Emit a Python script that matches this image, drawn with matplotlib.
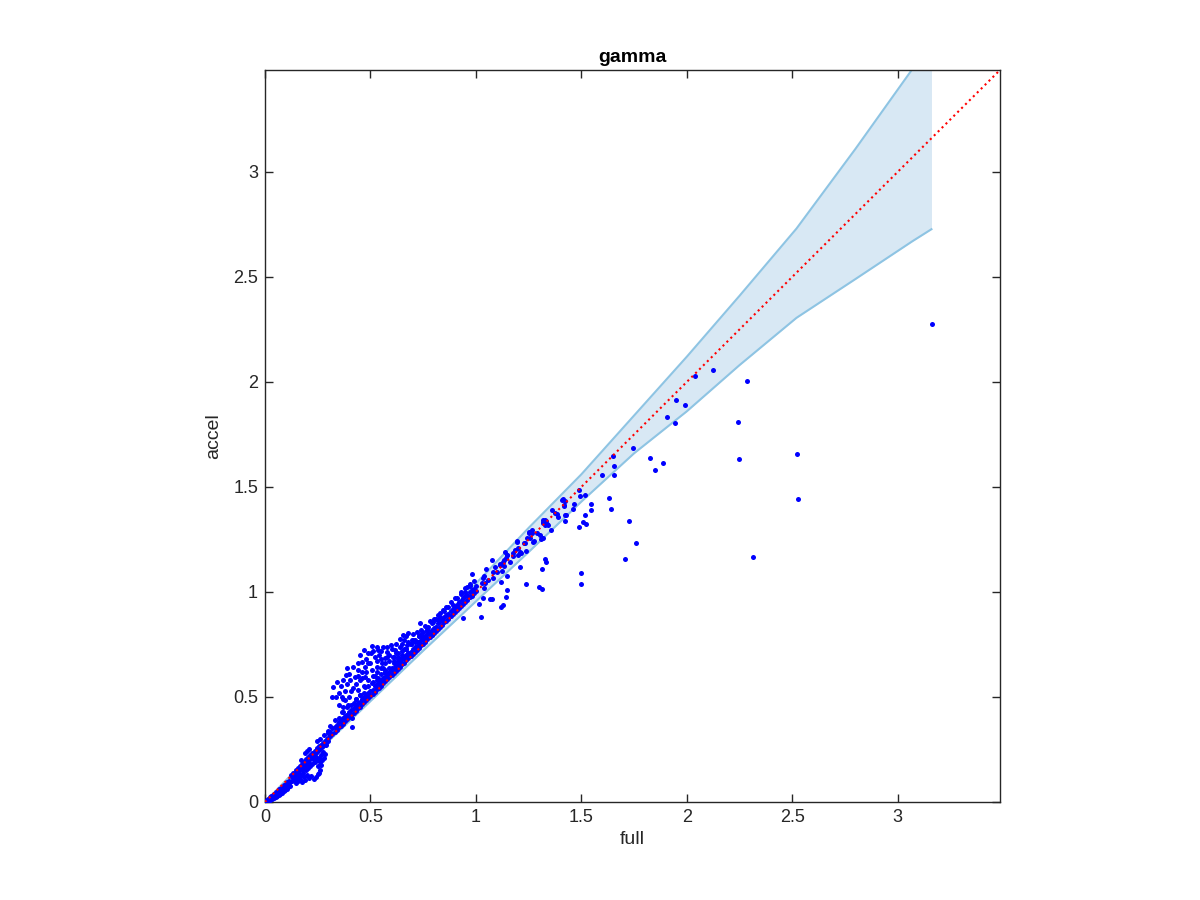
import matplotlib
matplotlib.use("Agg")
import matplotlib.pyplot as plt

# -----------------------------
# data
# -----------------------------

# confidence band (upper / lower edge)
band_x = [0, 0.25, 0.5, 0.75, 1.0, 1.25, 1.5, 1.75, 2.0, 2.25, 2.52, 2.8, 3.07, 3.16]
band_up = [0, 0.26, 0.515, 0.775, 1.04, 1.305, 1.56, 1.84, 2.12, 2.41, 2.73, 3.11, 3.49, 3.61]
band_lo = [0, 0.24, 0.48, 0.72, 0.955, 1.19, 1.43, 1.66, 1.86, 2.08, 2.305, 2.49, 2.67, 2.727]

diag = [0, 3.485]

# points near the origin and the lower bulge (full < 0.3)
low_x = [0.002, 0.006, 0.01, 0.012, 0.015, 0.018, 0.02, 0.022, 0.025, 0.028, 0.03, 0.033,
         0.035, 0.038, 0.04, 0.043, 0.045, 0.048, 0.05, 0.053, 0.055, 0.058, 0.06, 0.063,
         0.065, 0.068, 0.07, 0.073, 0.075, 0.078, 0.08, 0.083, 0.085, 0.088, 0.09, 0.093,
         0.095, 0.098, 0.1, 0.103, 0.106, 0.108, 0.11, 0.113, 0.116, 0.12,
         0.125, 0.13, 0.135, 0.14, 0.145, 0.15, 0.155, 0.16, 0.165, 0.17, 0.175, 0.18,
         0.185, 0.19, 0.195, 0.2, 0.205, 0.21, 0.215, 0.22, 0.225, 0.23, 0.235, 0.24,
         0.245, 0.25, 0.255, 0.26, 0.265, 0.27, 0.275, 0.28, 0.285, 0.29, 0.295, 0.3,
         0.13, 0.14, 0.145, 0.15, 0.155, 0.16, 0.165, 0.17, 0.175, 0.18, 0.185, 0.19,
         0.195, 0.2, 0.205, 0.21, 0.215, 0.22, 0.225, 0.23, 0.235, 0.24, 0.245, 0.25,
         0.255, 0.26, 0.265, 0.27, 0.28, 0.285, 0.17, 0.19, 0.2, 0.21, 0.24, 0.25,
         0.255, 0.26, 0.23,
         0.17, 0.19, 0.2, 0.21, 0.245, 0.26, 0.28, 0.3,
         0.14, 0.16, 0.18, 0.2, 0.265, 0.275, 0.29]
low_y = [0.001, 0.004, 0.008, 0.004, 0.012, 0.01, 0.016, 0.008, 0.022, 0.015, 0.027, 0.02,
         0.012, 0.033, 0.026, 0.018, 0.04, 0.03, 0.022, 0.047, 0.036, 0.028, 0.052, 0.042,
         0.033, 0.06, 0.05, 0.04, 0.065, 0.055, 0.045, 0.072, 0.062, 0.05, 0.08, 0.068,
         0.058, 0.088, 0.076, 0.064, 0.095, 0.083, 0.07, 0.102, 0.09, 0.078,
         0.13, 0.12, 0.14, 0.128, 0.15, 0.138, 0.16, 0.148, 0.17, 0.158, 0.18, 0.168,
         0.19, 0.178, 0.205, 0.19, 0.215, 0.2, 0.225, 0.21, 0.235, 0.22, 0.245, 0.232,
         0.255, 0.242, 0.265, 0.25, 0.27, 0.26, 0.28, 0.272, 0.29, 0.282, 0.3, 0.292,
         0.1, 0.105, 0.09, 0.115, 0.1, 0.125, 0.11, 0.13, 0.095, 0.14, 0.12, 0.105,
         0.15, 0.13, 0.16, 0.115, 0.17, 0.125, 0.18, 0.11, 0.19, 0.12, 0.2, 0.135,
         0.21, 0.15, 0.175, 0.2, 0.21, 0.23, 0.155, 0.165, 0.175, 0.185, 0.215, 0.17,
         0.14, 0.19, 0.2,
         0.2, 0.235, 0.245, 0.25, 0.29, 0.3, 0.32, 0.34,
         0.115, 0.135, 0.155, 0.16, 0.225, 0.24, 0.27]

# main ridge just above the diagonal (0.3 .. 1.0)
ridge_x = [0.30, 0.31, 0.32, 0.33, 0.34, 0.35, 0.36, 0.37, 0.38, 0.39, 0.40, 0.41, 0.42,
           0.43, 0.44, 0.45, 0.46, 0.47, 0.48, 0.49, 0.50, 0.51, 0.52, 0.53, 0.54, 0.55,
           0.56, 0.57, 0.58, 0.59, 0.60, 0.61, 0.62, 0.63, 0.64, 0.65, 0.66, 0.67, 0.68,
           0.69, 0.70, 0.71, 0.72, 0.73, 0.74, 0.75, 0.76, 0.77, 0.78, 0.79, 0.80, 0.81,
           0.82, 0.83, 0.84, 0.85, 0.86, 0.87, 0.88, 0.89, 0.90, 0.91, 0.92, 0.93, 0.94,
           0.95, 0.96, 0.97, 0.98, 0.99, 1.00]
ridge_a = [0.305, 0.312, 0.322, 0.334, 0.343, 0.356, 0.364, 0.373, 0.386, 0.394, 0.403,
           0.416, 0.424, 0.433, 0.446, 0.453, 0.465, 0.476, 0.484, 0.493, 0.506, 0.514,
           0.523, 0.536, 0.545, 0.553, 0.566, 0.575, 0.584, 0.596, 0.603, 0.615, 0.626,
           0.634, 0.643, 0.656, 0.664, 0.675, 0.686, 0.693, 0.705, 0.716, 0.724, 0.733,
           0.746, 0.754, 0.763, 0.776, 0.784, 0.793, 0.806, 0.813, 0.825, 0.834, 0.843,
           0.856, 0.864, 0.873, 0.885, 0.894, 0.903, 0.915, 0.924, 0.933, 0.945, 0.953,
           0.964, 0.975, 0.983, 0.994, 1.004]
ridge_b = [0.33, 0.335, 0.35, 0.357, 0.366, 0.38, 0.385, 0.4, 0.41, 0.415, 0.43, 0.44,
           0.446, 0.46, 0.47, 0.475, 0.49, 0.5, 0.505, 0.52, 0.53, 0.535, 0.55, 0.56,
           0.565, 0.58, 0.59, 0.596, 0.61, 0.62, 0.625, 0.64, 0.65, 0.656, 0.67, 0.68,
           0.685, 0.7, 0.71, 0.716, 0.73, 0.74, 0.745, 0.76, 0.77, 0.775, 0.79, 0.8,
           0.806, 0.82, 0.83, 0.835, 0.85, 0.86, 0.866, 0.88, 0.89, 0.895, 0.91, 0.92,
           0.925, 0.94, 0.95, 0.955, 0.97, 0.98, 0.985, 1.0, 1.01, 1.015, 1.03]
ridge2_x = [0.31, 0.33, 0.35, 0.37, 0.39, 0.41, 0.43, 0.45, 0.47, 0.49, 0.51, 0.53, 0.55,
            0.57, 0.59, 0.61, 0.63, 0.65, 0.67, 0.69, 0.71, 0.73, 0.75, 0.77, 0.79, 0.81,
            0.83, 0.85, 0.87, 0.89, 0.91, 0.93, 0.95, 0.97, 0.99]
ridge2_y = [0.36, 0.39, 0.40, 0.43, 0.45, 0.46, 0.49, 0.51, 0.52, 0.55, 0.57, 0.58, 0.61,
            0.63, 0.64, 0.67, 0.69, 0.70, 0.73, 0.75, 0.76, 0.79, 0.81, 0.82, 0.85, 0.87,
            0.88, 0.91, 0.93, 0.94, 0.97, 0.99, 1.00, 1.03, 1.05]

# the hump above the ridge (0.3 .. 0.85)
hump_x = [0.468, 0.509, 0.502, 0.537, 0.561, 0.577, 0.597, 0.616, 0.608, 0.640, 0.656,
          0.679, 0.695, 0.671, 0.735, 0.742, 0.774, 0.798, 0.750, 0.458, 0.474, 0.490,
          0.442, 0.419, 0.387, 0.382, 0.403, 0.427, 0.450, 0.474, 0.506, 0.529, 0.553,
          0.569, 0.340, 0.324, 0.319, 0.336, 0.363, 0.379, 0.371, 0.395, 0.363, 0.387,
          0.411, 0.414, 0.419, 0.442, 0.474, 0.506, 0.537, 0.569, 0.600, 0.624, 0.648,
          0.679, 0.711, 0.727, 0.758, 0.790, 0.821,
          0.35, 0.36, 0.37, 0.39, 0.40, 0.41, 0.43, 0.44, 0.45, 0.46, 0.48, 0.49, 0.50,
          0.51, 0.52, 0.53, 0.54, 0.55, 0.56, 0.58, 0.59, 0.60, 0.62, 0.63, 0.64, 0.66,
          0.67, 0.68, 0.70, 0.72, 0.73, 0.76, 0.78, 0.80, 0.82, 0.43, 0.45, 0.47, 0.49,
          0.51, 0.53, 0.55, 0.57, 0.59, 0.61, 0.63, 0.65, 0.67, 0.69, 0.38, 0.42, 0.40,
          0.83, 0.86, 0.88, 0.90, 0.93, 0.95, 0.97,
          0.46, 0.52, 0.55, 0.58, 0.62, 0.65, 0.70, 0.74, 0.77, 0.48, 0.53, 0.57, 0.61,
          0.66, 0.71, 0.35, 0.37, 0.44]
hump_y = [0.724, 0.744, 0.708, 0.724, 0.740, 0.716, 0.748, 0.724, 0.692, 0.775, 0.795,
          0.803, 0.771, 0.748, 0.851, 0.819, 0.835, 0.859, 0.787, 0.668, 0.644, 0.660,
          0.629, 0.644, 0.636, 0.605, 0.581, 0.597, 0.581, 0.597, 0.629, 0.644, 0.660,
          0.684, 0.573, 0.546, 0.501, 0.501, 0.501, 0.486, 0.454, 0.462, 0.430, 0.414,
          0.398, 0.358, 0.541, 0.533, 0.549, 0.565, 0.589, 0.613, 0.637, 0.660, 0.684,
          0.708, 0.732, 0.763, 0.771, 0.795, 0.867,
          0.52, 0.55, 0.58, 0.56, 0.61, 0.53, 0.56, 0.66, 0.70, 0.62, 0.68, 0.71, 0.66,
          0.72, 0.69, 0.74, 0.70, 0.72, 0.64, 0.74, 0.70, 0.73, 0.75, 0.71, 0.74, 0.77,
          0.79, 0.76, 0.80, 0.81, 0.79, 0.84, 0.86, 0.87, 0.89, 0.49, 0.51, 0.55, 0.58,
          0.60, 0.62, 0.64, 0.66, 0.67, 0.69, 0.68, 0.72, 0.73, 0.75, 0.53, 0.47, 0.50,
          0.90, 0.93, 0.95, 0.97, 1.00, 1.02, 1.04,
          0.59, 0.60, 0.68, 0.69, 0.71, 0.75, 0.77, 0.80, 0.82, 0.62, 0.67, 0.62, 0.66,
          0.73, 0.77, 0.46, 0.49, 0.60]

# points along and below the band (0.85 .. 3.2)
outer_x = [1.488, 1.493, 1.515, 1.547, 1.545, 1.507, 1.520, 1.491, 1.499, 1.498, 1.327,
           1.332, 1.314, 1.299, 1.314, 1.239, 1.209, 1.414, 1.422, 1.419, 1.464, 1.461,
           1.423, 1.422, 1.385, 1.389, 1.327, 1.319, 1.339, 1.355, 1.267, 1.253, 1.256,
           1.303, 1.310, 1.275, 1.194, 1.229, 1.237, 1.213, 1.198, 1.177, 1.137, 1.149,
           1.134, 1.112, 1.133, 1.090, 1.076, 1.122, 1.147, 1.047, 1.039, 1.082, 0.981,
           0.956, 1.027, 1.039, 1.149, 1.145, 1.074, 1.032, 1.130, 1.024, 0.940,
           0.845, 1.121, 1.121, 1.066, 1.016, 1.035, 1.043, 1.059, 1.082, 1.098, 1.114,
           1.130, 1.145, 1.148, 1.161, 1.177, 1.185, 1.201, 1.208, 1.193, 1.232, 1.240,
           1.253, 1.264, 1.272, 1.290, 1.319, 1.327, 1.319, 1.374, 1.36, 1.409, 1.417,
           1.427, 1.32, 1.313, 1.515, 1.34, 1.33,
           3.164, 2.122, 2.041, 2.286, 1.948, 1.990, 1.907, 1.943, 2.243, 2.248, 2.521,
           2.528, 2.316, 1.747, 1.825, 1.888, 1.850, 1.651, 1.657, 1.656, 1.596, 1.629,
           1.640, 1.727, 1.758, 1.706]
outer_y = [1.486, 1.459, 1.462, 1.417, 1.392, 1.335, 1.324, 1.308, 1.090, 1.036, 1.159,
           1.143, 1.111, 1.025, 1.014, 1.040, 1.118, 1.444, 1.433, 1.413, 1.419, 1.394,
           1.367, 1.340, 1.369, 1.355, 1.343, 1.332, 1.324, 1.295, 1.295, 1.283, 1.258,
           1.271, 1.250, 1.244, 1.241, 1.235, 1.197, 1.184, 1.176, 1.173, 1.192, 1.175,
           1.152, 1.133, 1.125, 1.121, 1.152, 1.100, 1.078, 1.110, 1.076, 1.093, 1.086,
           1.025, 1.044, 1.017, 1.007, 0.978, 0.965, 0.971, 0.938, 0.882, 0.875,
           0.914, 0.930, 1.049, 0.965, 0.943, 1.065, 1.045, 1.057, 1.065, 1.097, 1.128,
           1.144, 1.160, 1.176, 1.144, 1.184, 1.200, 1.208, 1.192, 1.240, 1.232, 1.256,
           1.287, 1.279, 1.240, 1.279, 1.256, 1.319, 1.343, 1.375, 1.39, 1.440, 1.410,
           1.365, 1.33, 1.259, 1.368, 1.32, 1.34,
           2.275, 2.059, 2.029, 2.005, 1.913, 1.890, 1.835, 1.806, 1.808, 1.635, 1.659,
           1.443, 1.168, 1.686, 1.638, 1.613, 1.579, 1.646, 1.600, 1.556, 1.556, 1.448,
           1.395, 1.340, 1.235, 1.157]

full_pts = low_x + ridge_x + ridge_x + ridge2_x + hump_x + outer_x
accel_pts = low_y + ridge_a + ridge_b + ridge2_y + hump_y + outer_y

# -----------------------------
# plot
# -----------------------------
plt.rcParams["font.family"] = ["Liberation Sans", "DejaVu Sans"]

fig = plt.figure(figsize=(12, 9), dpi=100)
ax = fig.add_axes([265 / 1200, 98 / 900, 735 / 1200, 732 / 900])

ax.fill_between(band_x, band_lo, band_up, color="#d8e8f4", lw=0, zorder=1)
ax.plot(band_x, band_up, color="#8ec4e3", lw=1.5, zorder=2)
ax.plot(band_x, band_lo, color="#8ec4e3", lw=1.5, zorder=2)

ax.plot(full_pts, accel_pts, "o", color="#0000ff", ms=3.6, mew=0, zorder=3)

ax.plot(diag, diag, ":", color="#ff0000", lw=1.5, zorder=4)

ax.set_xlim(0, 3.485)
ax.set_ylim(0, 3.485)
ticks = [0, 0.5, 1, 1.5, 2, 2.5, 3]
ax.set_xticks(ticks)
ax.set_yticks(ticks)
ax.set_xticklabels(["0", "0.5", "1", "1.5", "2", "2.5", "3"])
ax.set_yticklabels(["0", "0.5", "1", "1.5", "2", "2.5", "3"])

ax.tick_params(direction="in", length=6, width=1, top=True, right=True,
               labelsize=13, colors="#262626", pad=5)
for s in ax.spines.values():
    s.set_color("#262626")
    s.set_linewidth(1)

ax.set_xlabel("full", fontsize=14, color="#262626", labelpad=4)
ax.set_ylabel("accel", fontsize=14, color="#262626", labelpad=8)
ax.set_title("gamma", fontsize=14, fontweight="bold", pad=6)

fig.savefig("out.png", dpi=100)
